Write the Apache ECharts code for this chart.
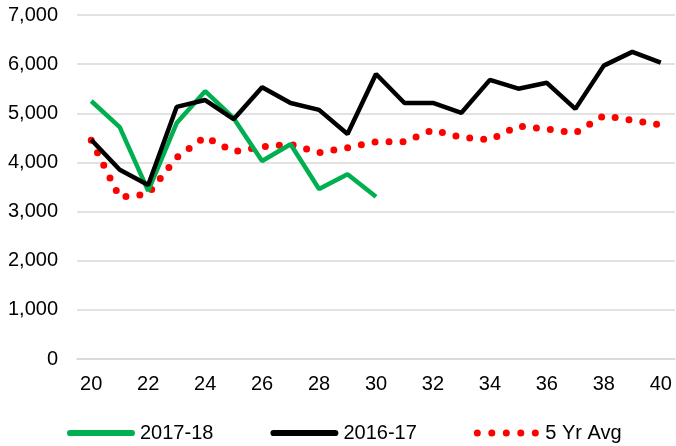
<!DOCTYPE html>
<html>
<head>
<meta charset="utf-8">
<script src="https://cdn.jsdelivr.net/npm/echarts@6/dist/echarts.min.js"></script>
<style>
  html, body { margin: 0; padding: 0; background: #fff; }
  #chart-ctn { width: 676px; height: 446px; }
</style>
</head>
<body>
<div id="chart-ctn"></div>
<script>
var weeks = [20, 21, 22, 23, 24, 25, 26, 27, 28, 29, 30, 31, 32, 33, 34, 35, 36, 37, 38, 39, 40];

var s1718 = [5250, 4720, 3420, 4800, 5450, 4900, 4030, 4370, 3460, 3760, 3300];
var s1617 = [4460, 3850, 3540, 5130, 5270, 4880, 5530, 5210, 5070, 4580, 5800,
             5210, 5210, 5010, 5680, 5500, 5620, 5090, 5970, 6250, 6030];
var avg5 = [4450, 3290, 3360, 4100, 4520, 4220, 4320, 4370, 4200, 4300, 4420,
            4420, 4660, 4510, 4460, 4740, 4680, 4600, 4950, 4860, 4760];

var yMin = 0, yMax = 7000, yStep = 1000;

var chart = echarts.init(document.getElementById('chart-ctn'));

var fontBase = { fontFamily: 'Liberation Sans, Arial, sans-serif', fontSize: 20, color: '#000' };

// legend icons: solid bar for lines, five round dots for the average
var barIcon = 'path://M3,0 L63,0 A3,3 0 0,1 63,6 L3,6 A3,3 0 0,1 3,0 Z';
var dotIcon = 'path://' + [3.5, 18, 32.5, 47, 61.5].map(function (c) {
  return 'M' + (c - 3.5) + ',3.5 a3.5,3.5 0 1,0 7,0 a3.5,3.5 0 1,0 -7,0 Z';
}).join(' ');

var option = {
  animation: false,
  textStyle: fontBase,
  grid: { left: 77, right: 1, top: 15, bottom: 87, containLabel: false },
  legend: {
    bottom: 3,
    left: 67,
    padding: 0,
    itemWidth: 68,
    itemHeight: 7,
    itemGap: 57,
    textStyle: fontBase,
    data: [
      { name: '2017-18', icon: barIcon },
      { name: '2016-17', icon: barIcon },
      { name: '5 Yr Avg', icon: dotIcon }
    ]
  },
  xAxis: {
    type: 'category',
    boundaryGap: true,
    data: weeks,
    axisLine: { lineStyle: { color: '#d9d9d9', width: 1.5 } },
    axisTick: { show: false },
    axisLabel: Object.assign({ interval: 1, margin: 15 }, fontBase)
  },
  yAxis: {
    type: 'value',
    min: yMin,
    max: yMax,
    interval: yStep,
    axisLine: { show: false },
    axisTick: { show: false },
    splitLine: { lineStyle: { color: '#d9d9d9', width: 1.5 } },
    axisLabel: Object.assign({
      margin: 19,
      formatter: function (v) { return v.toLocaleString('en-US'); }
    }, fontBase)
  },
  series: [
    {
      name: '2017-18',
      type: 'line',
      data: s1718,
      symbol: 'none',
      itemStyle: { color: '#00B050' },
      lineStyle: { color: '#00B050', width: 4.5 },
      z: 3
    },
    {
      name: '2016-17',
      type: 'line',
      data: s1617,
      symbol: 'none',
      itemStyle: { color: '#000' },
      lineStyle: { color: '#000', width: 4.5 },
      z: 4
    },
    {
      name: '5 Yr Avg',
      type: 'line',
      data: avg5,
      symbol: 'none',
      itemStyle: { color: '#FF0000' },
      lineStyle: { color: '#FF0000', width: 7, type: [0, 14], cap: 'round' },
      z: 2
    }
  ]
};

chart.setOption(option, true);
</script>
</body>
</html>
